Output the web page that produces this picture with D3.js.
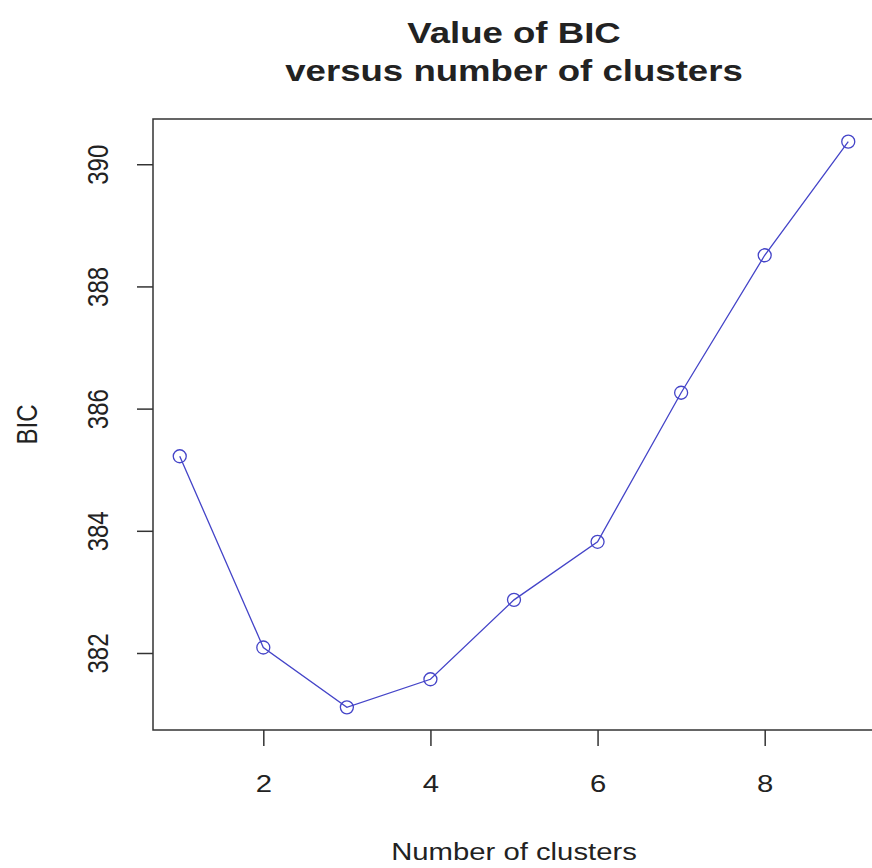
<!DOCTYPE html>
<html>
<head>
<meta charset="utf-8">
<script src="https://cdn.jsdelivr.net/npm/d3@7"></script>
<style>
  body { margin: 0; background: #fff; }
  svg text { font-family: "Liberation Sans", Arial, sans-serif; fill: #222; }
</style>
</head>
<body>
<div id="chart"></div>
<script>
const clusters = [1, 2, 3, 4, 5, 6, 7, 8, 9];
const bicValues = [385.22, 382.09, 381.11, 381.57, 382.87, 383.82, 386.26, 388.51, 390.37];
const xTicks = [2, 4, 6, 8];
const yTicks = [382, 384, 386, 388, 390];

const width = 872;
const height = 868;
const margin = { top: 119, right: -3, bottom: 138, left: 153 };
// the source image is stretched sideways, so text is widened a bit
const sx = 1.22;

const svg = d3.select("#chart").append("svg")
    .attr("width", width)
    .attr("height", height);

// R style: extend range by 4% each side
const xPad = (d3.max(clusters) - d3.min(clusters)) * 0.04;
const yPad = (d3.max(bicValues) - d3.min(bicValues)) * 0.04;

const x = d3.scaleLinear()
    .domain([d3.min(clusters) - xPad, d3.max(clusters) + xPad])
    .range([margin.left, width - margin.right]);

const y = d3.scaleLinear()
    .domain([d3.min(bicValues) - yPad, d3.max(bicValues) + yPad])
    .range([height - margin.bottom, margin.top]);

const data = clusters.map((c, i) => ({ c, v: bicValues[i] }));
const lineColor = "#4444c8";

svg.append("path")
    .datum(data)
    .attr("fill", "none")
    .attr("stroke", lineColor)
    .attr("stroke-width", 1.3)
    .attr("d", d3.line().x(d => x(d.c)).y(d => y(d.v)));

svg.append("g")
    .selectAll("circle")
    .data(data)
    .enter()
    .append("circle")
    .attr("cx", d => x(d.c))
    .attr("cy", d => y(d.v))
    .attr("r", 6.5)
    .attr("fill", "none")
    .attr("stroke", lineColor)
    .attr("stroke-width", 1.3);

// box
svg.append("rect")
    .attr("x", x.range()[0])
    .attr("y", y.range()[1])
    .attr("width", x.range()[1] - x.range()[0])
    .attr("height", y.range()[0] - y.range()[1])
    .attr("fill", "none")
    .attr("stroke", "#333")
    .attr("stroke-width", 1.5);

const xAxis = svg.append("g")
    .attr("transform", `translate(0,${height - margin.bottom})`)
    .call(d3.axisBottom(x).tickValues(xTicks).tickSize(16).tickPadding(29));
xAxis.select(".domain").remove();
xAxis.selectAll("line").attr("stroke", "#333").attr("stroke-width", 1.5);
xAxis.selectAll("text")
    .attr("transform", `scale(${sx},1)`)
    .style("font-size", "24px")
    .style("font-family", "Liberation Sans, Arial, sans-serif")
    .attr("fill", "#222");

const yAxis = svg.append("g")
    .attr("transform", `translate(${margin.left},0)`)
    .call(d3.axisLeft(y).tickValues(yTicks).tickSize(16).tickFormat(d3.format("d")));
yAxis.select(".domain").remove();
yAxis.selectAll("line").attr("stroke", "#333").attr("stroke-width", 1.5);
yAxis.selectAll("text")
    .attr("x", null)
    .attr("text-anchor", "middle")
    .attr("transform", `translate(-55,0) scale(${sx},1) rotate(-90)`)
    .attr("dy", "0.35em")
    .style("font-size", "24px")
    .style("font-family", "Liberation Sans, Arial, sans-serif")
    .attr("fill", "#222");

const cx = (x.range()[0] + x.range()[1]) / 2;

svg.append("text")
    .attr("transform", `translate(${cx},43) scale(${sx},1)`)
    .attr("text-anchor", "middle")
    .style("font-size", "30px")
    .style("font-weight", "bold")
    .text("Value of BIC");

svg.append("text")
    .attr("transform", `translate(${cx},81) scale(${sx},1)`)
    .attr("text-anchor", "middle")
    .style("font-size", "30px")
    .style("font-weight", "bold")
    .text("versus number of clusters");

svg.append("text")
    .attr("transform", `translate(${cx},860) scale(${sx},1)`)
    .attr("text-anchor", "middle")
    .style("font-size", "24px")
    .text("Number of clusters");

svg.append("text")
    .attr("transform", `translate(37,${(y.range()[0] + y.range()[1]) / 2}) scale(${sx},1) rotate(-90)`)
    .attr("text-anchor", "middle")
    .style("font-size", "24px")
    .text("BIC");
</script>
</body>
</html>
